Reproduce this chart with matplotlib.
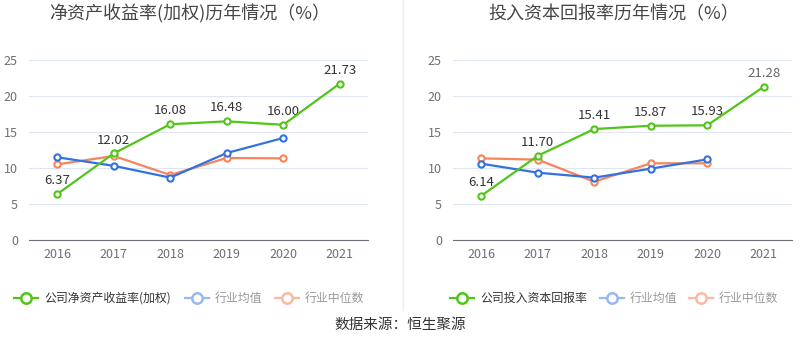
import matplotlib.pyplot as plt
from matplotlib.lines import Line2D

plt.rcParams['font.family'] = ['Noto Sans CJK SC', 'DejaVu Sans']

years = ['2016', '2017', '2018', '2019', '2020', '2021']

# 净资产收益率(加权)
roe_company = [6.37, 12.02, 16.08, 16.48, 16.00, 21.73]
roe_mean = [11.49, 10.30, 8.66, 12.08, 14.17]
roe_median = [10.50, 11.67, 9.03, 11.39, 11.34]

# 投入资本回报率
roic_company = [6.14, 11.70, 15.41, 15.87, 15.93, 21.28]
roic_mean = [10.60, 9.35, 8.66, 9.91, 11.20]
roic_median = [11.34, 11.16, 8.10, 10.65, 10.65]

GREEN = '#52c41a'
BLUE = '#3272e0'
ORANGE = '#f7845a'
GRID = '#e0e6f1'
AXIS = '#6e7079'

fig = plt.figure(figsize=(8, 3.58), dpi=100)
W, H = 800, 358


def draw_panel(rect, title, title_x, company, mean, median, label_colors):
    ax = fig.add_axes(rect)
    x = list(range(len(years)))
    ax.plot(x[:len(median)], median, color=ORANGE, lw=1.6, marker='o', ms=4.5,
            mfc='white', mec=ORANGE, mew=1.5, zorder=3)
    ax.plot(x[:len(mean)], mean, color=BLUE, lw=1.6, marker='o', ms=4.5,
            mfc='white', mec=BLUE, mew=1.5, zorder=3)
    ax.plot(x, company, color=GREEN, lw=1.6, marker='o', ms=4.5,
            mfc='white', mec=GREEN, mew=1.5, zorder=4)
    for i, v in enumerate(company):
        ax.annotate(f'{v:.2f}', (i, v), xytext=(0, 5), textcoords='offset points',
                    ha='center', va='bottom', fontsize=9.5, color=label_colors[i])
    ax.set_xlim(-0.5, len(years) - 0.5)
    ax.set_ylim(0, 25)
    ax.set_yticks([0, 5, 10, 15, 20, 25])
    ax.set_xticks(x)
    ax.set_xticklabels(years)
    ax.grid(axis='y', color=GRID, lw=0.8)
    ax.set_axisbelow(True)
    for s in ['top', 'right', 'left']:
        ax.spines[s].set_visible(False)
    ax.spines['bottom'].set_color(AXIS)
    ax.tick_params(axis='both', length=0, labelsize=9, colors=AXIS)
    ax.tick_params(axis='x', pad=6)
    ax.tick_params(axis='y', pad=8)
    fig.text(title_x / W, 1 - 14 / H, title, ha='center', va='center',
             fontsize=13, color='#464646')
    return ax


draw_panel([29 / W, 1 - 240 / H, 339 / W, 180 / H], '净资产收益率(加权)历年情况（%）', 190,
           roe_company, roe_mean, roe_median, ['#333333'] * 6)
draw_panel([453 / W, 1 - 240 / H, 339 / W, 180 / H], '投入资本回报率历年情况（%）', 614,
           roic_company, roic_mean, roic_median, ['#333333'] * 5 + ['#666666'])

# separator
fig.add_artist(Line2D([403 / W, 403 / W], [1, 1 - 310 / H], transform=fig.transFigure,
                      color='#eeeeee', lw=1))


def legend_item(x0, text, color, text_color):
    y = 1 - 298 / H
    fig.add_artist(Line2D([x0 / W, (x0 + 24) / W], [y, y], transform=fig.transFigure,
                          color=color, lw=1.6))
    fig.add_artist(Line2D([(x0 + 12) / W], [y], transform=fig.transFigure,
                          marker='o', ms=7.5, mfc='white', mec=color, mew=1.8))
    fig.text((x0 + 30) / W, y, text, ha='left', va='center', fontsize=8.6, color=text_color)


legend_item(14, '公司净资产收益率(加权)', GREEN, '#333333')
legend_item(185, '行业均值', '#99b8f0', '#999999')
legend_item(275, '行业中位数', '#fbb9a1', '#999999')
legend_item(450, '公司投入资本回报率', GREEN, '#333333')
legend_item(600, '行业均值', '#99b8f0', '#999999')
legend_item(689, '行业中位数', '#fbb9a1', '#999999')

fig.text(400 / W, 1 - 325 / H, '数据来源：恒生聚源', ha='center', va='center',
         fontsize=10.5, color='#333333')

fig.savefig('out.png', dpi=100)
